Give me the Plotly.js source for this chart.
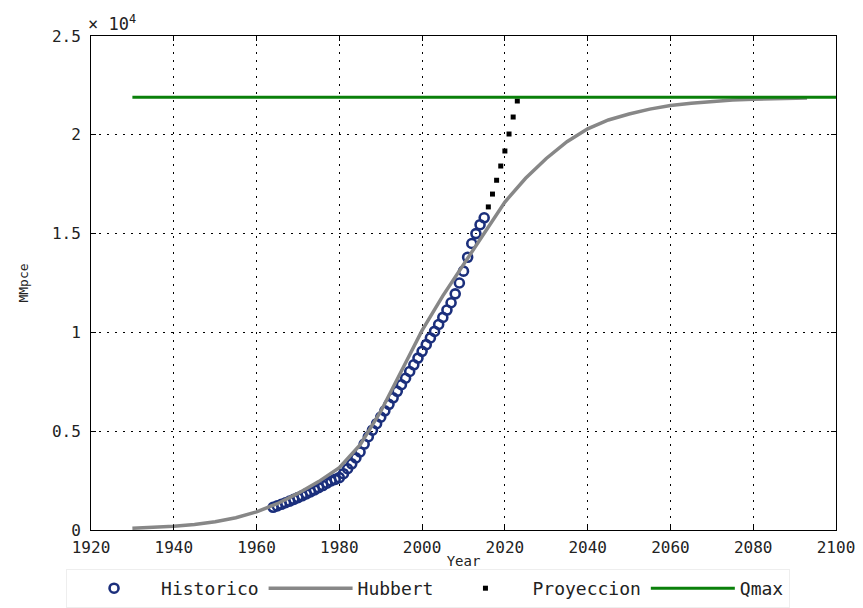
<!DOCTYPE html>
<html>
<head>
<meta charset="utf-8">
<script src="https://cdn.plot.ly/plotly-3.0.1.min.js"></script>
<style>html,body{margin:0;padding:0;background:#fff;}#chart{width:863px;height:608px;}</style>
</head>
<body>
<div id="chart"></div>
<script>
// Historical cumulative data (MMpce)
const histYears = [1964,1965,1966,1967,1968,1969,1970,1971,1972,1973,1974,1975,1976,1977,1978,1979,
  1980,1981,1982,1983,1984,1985,1986,1987,1988,1989,1990,1991,1992,1993,1994,1995,1996,1997,1998,1999,
  2000,2001,2002,2003,2004,2005,2006,2007,2008,2009,2010,2011,2012,2013,2014,2015];
const histValues = [1150,1220,1300,1380,1460,1550,1640,1730,1830,1930,2030,2140,2250,2370,2480,2560,
  2650,2850,3100,3350,3650,3950,4350,4720,5050,5380,5710,6030,6360,6690,7020,7350,7680,8020,8360,8700,
  9040,9380,9720,10050,10400,10760,11130,11500,11950,12500,13100,13800,14500,15000,15450,15800];

// Hubbert fitted curve
const hubYears = [1930,1935,1940,1945,1950,1955,1960,1965,1970,1975,1980,1985,1990,1995,2000,2005,2010,
  2015,2020,2025,2030,2035,2040,2045,2050,2055,2060,2065,2070,2075,2080,2085,2090,2093];
const hubValues = [90,130,190,280,420,620,920,1330,1850,2450,3150,4300,6000,8050,10100,11850,13450,
  15000,16600,17800,18800,19650,20300,20750,21050,21300,21480,21600,21700,21760,21800,21830,21850,21860];

// Projection
const projYears = [2016,2017,2018,2019,2020,2021,2022,2023];
const projValues = [16350,17000,17700,18420,19180,20040,20900,21710];

// Qmax
const qmaxYears = [1930,2100];
const qmaxValues = [21900,21900];

// Axis ticks
const xTicks = [1920,1940,1960,1980,2000,2020,2040,2060,2080,2100];
const yTickVals = [0,5000,10000,15000,20000,25000];
const yTickText = ['0','0.5','1','1.5','2','2.5'];

const font = 'DejaVu Sans Mono, Liberation Mono, monospace';
const txt = '#222';

const traces = [
  {x: histYears, y: histValues, name: 'Historico', mode: 'markers', type: 'scatter',
   marker: {symbol: 'circle-open', size: 9, color: '#1b2f7c', line: {width: 2.6, color: '#1b2f7c'}}},
  {x: hubYears, y: hubValues, name: 'Hubbert', mode: 'lines', type: 'scatter',
   line: {color: '#878787', width: 3.5}},
  {x: projYears, y: projValues, name: 'Proyeccion', mode: 'markers', type: 'scatter',
   marker: {symbol: 'square', size: 5, color: '#000'}},
  {x: qmaxYears, y: qmaxValues, name: 'Qmax', mode: 'lines', type: 'scatter',
   line: {color: '#0a800a', width: 3}}
];

const axisCommon = {
  showline: true, linecolor: '#000', linewidth: 1, mirror: 'ticks',
  ticks: 'inside', ticklen: 5, tickcolor: '#000',
  showgrid: true, gridcolor: '#000', gridwidth: 1, griddash: '2px,6px',
  zeroline: false, tickfont: {family: font, size: 16, color: txt}
};

const layout = {
  width: 863, height: 608,
  margin: {l: 91, r: 27, t: 36, b: 78, autoexpand: false},
  paper_bgcolor: '#fff', plot_bgcolor: '#fff',
  font: {family: font, color: txt},
  showlegend: true,
  xaxis: Object.assign({}, axisCommon, {
    range: [1920, 2100], tickvals: xTicks, ticklabelstandoff: 3,
    title: {text: 'Year', font: {family: font, size: 14, color: txt}, standoff: 7}
  }),
  yaxis: Object.assign({}, axisCommon, {
    range: [0, 25000], tickvals: yTickVals, ticktext: yTickText, ticklabelstandoff: 6,
    title: {text: 'MMpce', font: {family: font, size: 13, color: txt}, standoff: 20}
  }),
  legend: {
    orientation: 'h', xref: 'container', x: 0.496, xanchor: 'center',
    yref: 'container', y: 0.0, yanchor: 'bottom',
    font: {family: font, size: 18, color: txt},
    bordercolor: '#eeeeee', borderwidth: 1, itemwidth: 84, traceorder: 'normal'
  },
  annotations: [
    {xref: 'paper', yref: 'paper', x: 0, y: 1, xanchor: 'left', yanchor: 'bottom', xshift: -5, yshift: 0,
     text: '× 10<sup>4</sup>', showarrow: false, font: {family: font, size: 17, color: txt}}
  ]
};

Plotly.newPlot('chart', traces, layout, {displayModeBar: false, staticPlot: true});
</script>
</body>
</html>
